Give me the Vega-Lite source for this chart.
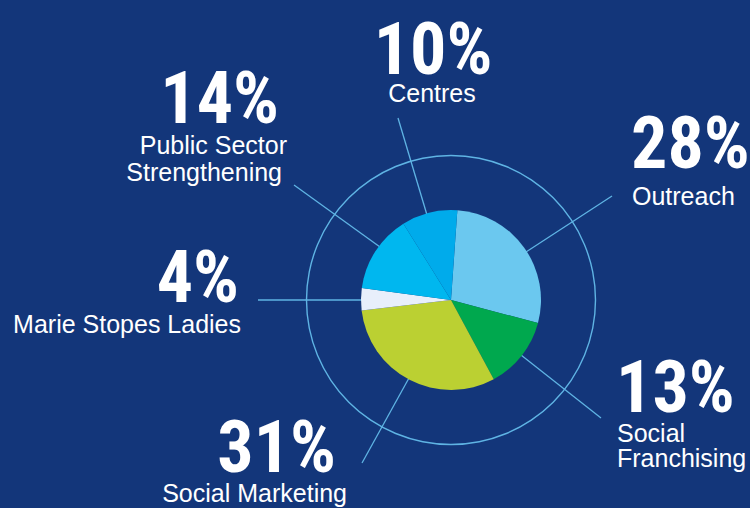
{
  "$schema": "https://vega.github.io/schema/vega-lite/v6.json",
  "width": 750,
  "height": 508,
  "autosize": "none",
  "padding": 0,
  "background": "#13367a",
  "config": {"view": {"stroke": null}},
  "datasets": {
    "slices": [
      {"cat": "Outreach", "pct": 28, "o": 1},
      {"cat": "Social Franchising", "pct": 13, "o": 2},
      {"cat": "Social Marketing", "pct": 31, "o": 3},
      {"cat": "Marie Stopes Ladies", "pct": 4, "o": 4},
      {"cat": "Public Sector Strengthening", "pct": 14, "o": 5},
      {"cat": "Centres", "pct": 10, "o": 6}
    ],
    "leaders": [
      {"cat": "Centres", "u": -24, "v": 85, "u2": -53, "v2": 182},
      {"cat": "Public Sector Strengthening", "u": -71, "v": 53, "u2": -157, "v2": 115},
      {"cat": "Outreach", "u": 75, "v": 48, "u2": 161, "v2": 104},
      {"cat": "Marie Stopes Ladies", "u": -88, "v": 0, "u2": -193, "v2": 0},
      {"cat": "Social Franchising", "u": 70, "v": -55, "u2": 150, "v2": -118},
      {"cat": "Social Marketing", "u": -42, "v": -78, "u2": -89, "v2": -163}
    ],
    "texts": [
      {"t": "10%", "u": -18, "v": 226.5, "kind": "pct", "al": "center"},
      {"t": "14%", "u": -172, "v": 177, "kind": "pct", "al": "right"},
      {"t": "28%", "u": 180, "v": 132, "kind": "pct", "al": "left"},
      {"t": "4%", "u": -212, "v": -2, "kind": "pct", "al": "right"},
      {"t": "13%", "u": 165, "v": -112, "kind": "pct", "al": "left"},
      {"t": "31%", "u": -115, "v": -172, "kind": "pct", "al": "right"},
      {"t": "Centres", "u": -19, "v": 198.3, "kind": "lab", "al": "center"},
      {"t": "Public Sector", "u": -164, "v": 146, "kind": "lab", "al": "right"},
      {"t": "Strengthening", "u": -169, "v": 119, "kind": "lab", "al": "right"},
      {"t": "Outreach", "u": 181, "v": 95, "kind": "lab", "al": "left"},
      {"t": "Marie Stopes Ladies", "u": -210, "v": -33.3, "kind": "lab", "al": "right"},
      {"t": "Social", "u": 166, "v": -141.7, "kind": "lab", "al": "left"},
      {"t": "Franchising", "u": 166, "v": -166.7, "kind": "lab", "al": "left"},
      {"t": "Social Marketing", "u": -104, "v": -201.7, "kind": "lab", "al": "right"}
    ]
  },
  "layer": [
    {
      "data": {"values": [{"ring": 1}]},
      "mark": {"type": "arc", "radius": 145.2, "radius2": 143.8, "theta": 0, "theta2": 6.2832, "color": "#5fb4e4"},
      "encoding": {
        "x": {"datum": 0, "type": "quantitative", "scale": {"domain": [-451, 299], "nice": false, "zero": false}, "axis": null},
        "y": {"datum": 0, "type": "quantitative", "scale": {"domain": [-208, 300], "nice": false, "zero": false}, "axis": null}
      }
    },
    {
      "data": {"name": "leaders"},
      "mark": {"type": "rule", "color": "#5fb4e4", "strokeWidth": 1.3},
      "encoding": {
        "x": {"field": "u", "type": "quantitative", "scale": {"domain": [-451, 299], "nice": false, "zero": false}, "axis": null},
        "y": {"field": "v", "type": "quantitative", "scale": {"domain": [-208, 300], "nice": false, "zero": false}, "axis": null},
        "x2": {"field": "u2"},
        "y2": {"field": "v2"}
      }
    },
    {
      "data": {"name": "slices"},
      "mark": {"type": "arc", "radius": 90},
      "encoding": {
        "x": {"datum": 0, "type": "quantitative", "scale": {"domain": [-451, 299], "nice": false, "zero": false}, "axis": null},
        "y": {"datum": 0, "type": "quantitative", "scale": {"domain": [-208, 300], "nice": false, "zero": false}, "axis": null},
        "theta": {"field": "pct", "type": "quantitative", "stack": true, "scale": {"domain": [0, 100], "range": [0.0707, 6.3539]}},
        "color": {
          "field": "cat", "type": "nominal",
          "scale": {
            "domain": ["Outreach", "Social Franchising", "Social Marketing", "Marie Stopes Ladies", "Public Sector Strengthening", "Centres"],
            "range": ["#6bc8ef", "#00a84e", "#bbd032", "#e8effb", "#00b7ef", "#00abeb"]
          },
          "legend": null
        },
        "order": {"field": "o", "type": "quantitative"}
      }
    },
    {
      "data": {"name": "texts"},
      "transform": [{"filter": "datum.kind === 'pct' && datum.al === 'center'"}],
      "mark": {"type": "text", "align": "center", "baseline": "alphabetic", "font": "'Roboto Condensed', Roboto, sans-serif", "fontWeight": "bold", "fontSize": 72, "color": "#ffffff"},
      "encoding": {
        "x": {"field": "u", "type": "quantitative", "scale": {"domain": [-451, 299], "nice": false, "zero": false}, "axis": null},
        "y": {"field": "v", "type": "quantitative", "scale": {"domain": [-208, 300], "nice": false, "zero": false}, "axis": null},
        "text": {"field": "t"}
      }
    },
    {
      "data": {"name": "texts"},
      "transform": [{"filter": "datum.kind === 'pct' && datum.al === 'right'"}],
      "mark": {"type": "text", "align": "right", "baseline": "alphabetic", "font": "'Roboto Condensed', Roboto, sans-serif", "fontWeight": "bold", "fontSize": 72, "color": "#ffffff"},
      "encoding": {
        "x": {"field": "u", "type": "quantitative", "scale": {"domain": [-451, 299], "nice": false, "zero": false}, "axis": null},
        "y": {"field": "v", "type": "quantitative", "scale": {"domain": [-208, 300], "nice": false, "zero": false}, "axis": null},
        "text": {"field": "t"}
      }
    },
    {
      "data": {"name": "texts"},
      "transform": [{"filter": "datum.kind === 'pct' && datum.al === 'left'"}],
      "mark": {"type": "text", "align": "left", "baseline": "alphabetic", "font": "'Roboto Condensed', Roboto, sans-serif", "fontWeight": "bold", "fontSize": 72, "color": "#ffffff"},
      "encoding": {
        "x": {"field": "u", "type": "quantitative", "scale": {"domain": [-451, 299], "nice": false, "zero": false}, "axis": null},
        "y": {"field": "v", "type": "quantitative", "scale": {"domain": [-208, 300], "nice": false, "zero": false}, "axis": null},
        "text": {"field": "t"}
      }
    },
    {
      "data": {"name": "texts"},
      "transform": [{"filter": "datum.kind === 'lab' && datum.al === 'center'"}],
      "mark": {"type": "text", "align": "center", "baseline": "alphabetic", "font": "Liberation Sans", "fontSize": 25, "color": "#ffffff"},
      "encoding": {
        "x": {"field": "u", "type": "quantitative", "scale": {"domain": [-451, 299], "nice": false, "zero": false}, "axis": null},
        "y": {"field": "v", "type": "quantitative", "scale": {"domain": [-208, 300], "nice": false, "zero": false}, "axis": null},
        "text": {"field": "t"}
      }
    },
    {
      "data": {"name": "texts"},
      "transform": [{"filter": "datum.kind === 'lab' && datum.al === 'right'"}],
      "mark": {"type": "text", "align": "right", "baseline": "alphabetic", "font": "Liberation Sans", "fontSize": 25, "color": "#ffffff"},
      "encoding": {
        "x": {"field": "u", "type": "quantitative", "scale": {"domain": [-451, 299], "nice": false, "zero": false}, "axis": null},
        "y": {"field": "v", "type": "quantitative", "scale": {"domain": [-208, 300], "nice": false, "zero": false}, "axis": null},
        "text": {"field": "t"}
      }
    },
    {
      "data": {"name": "texts"},
      "transform": [{"filter": "datum.kind === 'lab' && datum.al === 'left'"}],
      "mark": {"type": "text", "align": "left", "baseline": "alphabetic", "font": "Liberation Sans", "fontSize": 25, "color": "#ffffff"},
      "encoding": {
        "x": {"field": "u", "type": "quantitative", "scale": {"domain": [-451, 299], "nice": false, "zero": false}, "axis": null},
        "y": {"field": "v", "type": "quantitative", "scale": {"domain": [-208, 300], "nice": false, "zero": false}, "axis": null},
        "text": {"field": "t"}
      }
    }
  ]
}
